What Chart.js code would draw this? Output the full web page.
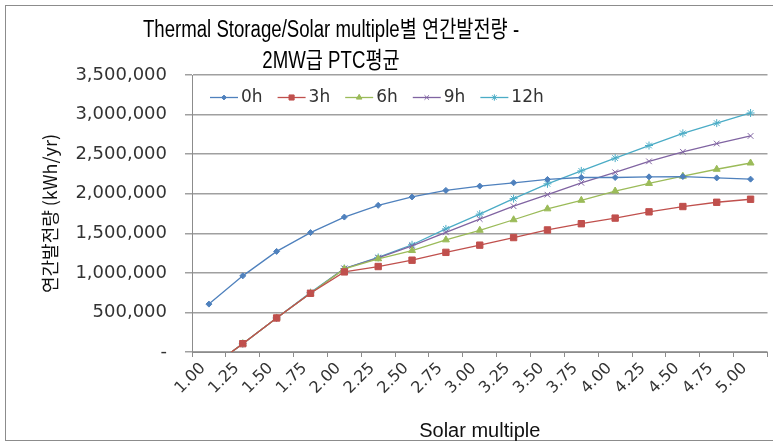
<!DOCTYPE html>
<html>
<head>
<meta charset="utf-8">
<script src="https://cdn.jsdelivr.net/npm/chart.js@4.4.1/dist/chart.umd.min.js"></script>
<style>
    html, body { margin: 0; padding: 0; background: #ffffff; }
    #quadro { position: relative; width: 773px; height: 446px; overflow: hidden; }
    #moldura { position: absolute; left: 5px; top: 5px; width: 820px; height: 436px; border: 1px solid #8c8c8c; box-sizing: border-box; }
    #titulo { position: absolute; left: 0; top: 14px; width: 662px; text-align: center; color: #000000;
              font-family: "Liberation Sans", "Noto Sans CJK KR", sans-serif;
              font-size: 23px; line-height: 31px; transform: scaleX(0.81); transform-origin: 331px 0; }
    #grafico { position: absolute; left: 0; top: 0; }
</style>
</head>
<body>
<div id="quadro">
    <div id="moldura"></div>
    <canvas id="grafico" width="773" height="446"></canvas>
    <div id="titulo">Thermal Storage/Solar multiple별 연간발전량 -<br>2MW급 PTC평균</div>
</div>
<script>
// Categorias do eixo X (Solar multiple)
const categorias = ["1.00", "1.25", "1.50", "1.75", "2.00", "2.25", "2.50", "2.75", "3.00",
                    "3.25", "3.50", "3.75", "4.00", "4.25", "4.50", "4.75", "5.00"];

// Nomes das séries (horas de armazenamento)
const nomesSeries = ["0h", "3h", "6h", "9h", "12h"];

// Valores (kWh/yr)
const serie0h = [605000, 962000, 1271000, 1509000, 1705000, 1853000, 1959000, 2042000, 2096000,
                 2138000, 2180000, 2205000, 2205000, 2213000, 2217000, 2200000, 2184000];
const serie3h = [-210000, 105000, 430000, 742000, 1012000, 1080000, 1160000, 1259000, 1350000,
                 1446000, 1542000, 1621000, 1692000, 1771000, 1838000, 1892000, 1930000];
const serie6h = [-210000, 105000, 430000, 742000, 1050000, 1178000, 1282000, 1417000, 1538000,
                 1671000, 1809000, 1917000, 2034000, 2130000, 2221000, 2309000, 2388000];
const serie9h = [-210000, 105000, 430000, 742000, 1055000, 1188000, 1340000, 1512000, 1680000,
                 1842000, 1988000, 2138000, 2271000, 2409000, 2530000, 2634000, 2730000];
const serie12h = [-210000, 105000, 430000, 750000, 1055000, 1195000, 1355000, 1555000, 1742000,
                  1938000, 2125000, 2288000, 2450000, 2609000, 2763000, 2892000, 3020000];

// Marcas do eixo Y
const marcasY = [0, 500000, 1000000, 1500000, 2000000, 2500000, 3000000, 3500000];

// Cores e estilos dos marcadores (padrão do Excel)
const cores = ["#4f81bd", "#c0504d", "#9bbb59", "#8064a2", "#4bacc6"];
const estilos = ["rectRot", "rect", "triangle", "crossRot", "star"];
const raios = [3, 4.5, 4, 4, 4];

const series = [serie0h, serie3h, serie6h, serie9h, serie12h];

// Monta os datasets a partir das séries
const datasets = series.map((dados, i) => ({
    label: nomesSeries[i],
    data: dados,
    borderColor: cores[i],
    backgroundColor: cores[i],
    pointBackgroundColor: cores[i],
    pointBorderColor: cores[i],
    pointStyle: estilos[i],
    pointRadius: raios[i],
    pointBorderWidth: 1,
    borderWidth: 1.3,
    tension: 0,
    fill: false,
}));

/* Legenda desenhada dentro da área do gráfico (linha + marcador + texto) */
const legendaInterna = {
    id: "legendaInterna",
    afterDraw(chart) {
        const ctx = chart.ctx;
        const area = chart.chartArea;
        let x = area.left + 18;
        const y = area.top + 22.5;
        ctx.save();
        ctx.font = "17px 'DejaVu Sans'";
        ctx.textBaseline = "middle";
        chart.data.datasets.forEach((ds, i) => {
            // Linha do ícone
            ctx.strokeStyle = ds.borderColor;
            ctx.fillStyle = ds.borderColor;
            ctx.lineWidth = 1.3;
            ctx.beginPath();
            ctx.moveTo(x, y);
            ctx.lineTo(x + 28, y);
            ctx.stroke();
            // Marcador no meio da linha
            ctx.lineWidth = 1;
            Chart.helpers.drawPoint(ctx, { pointStyle: ds.pointStyle, radius: ds.pointRadius * 0.8, borderWidth: 1, rotation: 0 }, x + 14, y);
            // Texto
            ctx.fillStyle = "#333333";
            ctx.fillText(ds.label, x + 31, y);
            x += 31 + ctx.measureText(ds.label).width + 15;
        });
        ctx.restore();
    },
};

new Chart(document.getElementById("grafico").getContext("2d"), {
    type: "line",
    data: { labels: categorias, datasets: datasets },
    plugins: [legendaInterna],
    options: {
        responsive: false,
        animation: false,
        layout: { padding: { top: 75, left: 5, right: 0, bottom: 0 } },
        plugins: {
            title: { display: false },
            tooltip: { enabled: false },
            legend: { display: false },
        },
        scales: {
            x: {
                type: "category",
                offset: true,
                grid: { offset: true, drawOnChartArea: false, drawTicks: true, tickLength: 5, color: "#8c8c8c" },
                border: { display: true, color: "#8c8c8c", width: 1 },
                ticks: {
                    autoSkip: false, minRotation: 45, maxRotation: 45, padding: 2, labelOffset: -6,
                    color: "#333333", font: { family: "DejaVu Sans", size: 16 },
                },
                title: {
                    display: true, text: "Solar multiple", color: "#111111",
                    font: { family: "Liberation Sans", size: 20 }, padding: { top: 0, bottom: 3 },
                },
                afterFit(escala) { escala.height = 94; },
            },
            y: {
                min: 0,
                max: 3500000,
                afterBuildTicks(escala) { escala.ticks = marcasY.map((v) => ({ value: v })); },
                ticks: {
                    padding: 18, color: "#333333", font: { family: "DejaVu Sans", size: 18 },
                    callback: (v) => (v === 0 ? "-" : v.toLocaleString("en-US")),
                },
                grid: { color: "#a0a0a0", lineWidth: 1.5, drawTicks: true, tickLength: 7 },
                border: { display: true, color: "#8c8c8c", width: 1 },
                title: {
                    display: true, text: "연간발전량 (kWh/yr)", color: "#111111",
                    font: { family: "Noto Sans CJK KR", size: 18 }, padding: { top: 34, bottom: 0 },
                },
                afterFit(escala) { escala.width = 187; },
            },
        },
    },
});
</script>
</body>
</html>
